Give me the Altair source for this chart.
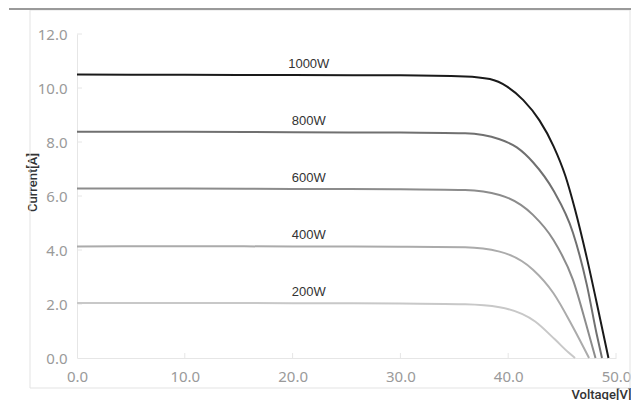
import altair as alt
import pandas as pd

series = ["1000W", "800W", "600W", "400W", "200W"]
colors = ["#1a1a1a", "#707070", "#8c8c8c", "#ababab", "#c8c8c8"]

v_1000 = [0, 10, 20, 30, 36, 38.3, 39.9, 41.4, 42.9, 44.2, 45.3, 46.2, 47.3, 48.5, 49.3]
i_1000 = [10.50, 10.49, 10.48, 10.47, 10.43, 10.33, 10.05, 9.55, 8.8, 7.85, 6.75, 5.5, 3.7, 1.5, 0.0]
v_800 = [0, 10, 20, 30, 36, 39.2, 40.8, 42.3, 44.2, 46.0, 47.3, 48.2, 48.7]
i_800 = [8.38, 8.38, 8.36, 8.35, 8.32, 8.1, 7.8, 7.25, 6.2, 4.65, 2.7, 0.9, 0.0]
v_600 = [0, 10, 20, 30, 36, 39.2, 42.3, 44.2, 46.0, 47.3, 48.1]
i_600 = [6.28, 6.28, 6.26, 6.25, 6.22, 6.04, 5.3, 4.37, 2.9, 1.15, 0.0]
v_400 = [0, 10, 20, 30, 36, 39.2, 42.3, 44.2, 46.0, 47.5]
i_400 = [4.13, 4.14, 4.13, 4.12, 4.10, 3.94, 3.27, 2.4, 1.15, 0.0]
v_200 = [0, 10, 20, 30, 36, 39.2, 42.5, 44.3, 45.6, 46.2]
i_200 = [2.04, 2.04, 2.03, 2.02, 1.99, 1.88, 1.35, 0.7, 0.2, 0.0]

label_v = [21.5, 21.5, 21.5, 21.5, 21.5]
label_i = [10.48, 8.36, 6.26, 4.13, 2.03]

x_ticks = [0, 10, 20, 30, 40, 50]
y_ticks = [0, 2, 4, 6, 8, 10, 12]

rows = []
for name, vs, cs in zip(series, [v_1000, v_800, v_600, v_400, v_200],
                        [i_1000, i_800, i_600, i_400, i_200]):
    for k, (v, c) in enumerate(zip(vs, cs)):
        rows.append({"series": name, "V": v, "I": c, "order": k})
df = pd.DataFrame(rows)
labels = pd.DataFrame({"series": series, "V": label_v, "I": label_i})

W, H = 539, 324
xs = alt.Scale(domain=[0, 50], nice=False)
ys = alt.Scale(domain=[0, 12], nice=False)
cs = alt.Scale(domain=series, range=colors)

lab_font = "Noto Sans"

lines = alt.Chart(df).mark_line(strokeWidth=2, interpolate="monotone").encode(
    x=alt.X("V:Q", scale=xs, axis=alt.Axis(
        values=x_ticks, format=".1f", grid=False, ticks=False, labelFlush=False,
        domainColor="#e6e6e6", labelColor="#9a9a9a", labelFont=lab_font,
        labelFontSize=15, labelPadding=11,
        title="Voltage[V]", titleFont="Roboto", titleFontSize=13, titleFontWeight=500,
        titleColor="#333333", titleAnchor="end", titleAlign="right",
        titleX=554, titleY=36, titleBaseline="middle")),
    y=alt.Y("I:Q", scale=ys, axis=alt.Axis(
        values=y_ticks, format=".1f", grid=False, ticks=False, labelFlush=False,
        domainColor="#e6e6e6", labelColor="#9a9a9a", labelFont=lab_font,
        labelFontSize=15, labelPadding=10,
        title="Current[A]", titleFont="Roboto", titleFontSize=13, titleFontWeight=500,
        titleColor="#333333", titleX=-45, titleY=148, titleAlign="center",
        titleBaseline="middle")),
    color=alt.Color("series:N", scale=cs, legend=None),
    order="order:Q",
)

texts = alt.Chart(labels).mark_text(
    font="Liberation Sans", fontSize=13, color="#333333",
    baseline="alphabetic", align="center", dy=-7
).encode(x=alt.X("V:Q", scale=xs), y=alt.Y("I:Q", scale=ys), text="series:N")

xt = alt.Chart(pd.DataFrame({"t": x_ticks[1:]})).mark_rule(color="#e6e6e6").encode(
    x=alt.X("t:Q", scale=xs), y=alt.value(H), y2=alt.value(H - 5))
yt = alt.Chart(pd.DataFrame({"t": y_ticks[1:]})).mark_rule(color="#e6e6e6").encode(
    y=alt.Y("t:Q", scale=ys), x=alt.value(0), x2=alt.value(5))

frame = alt.Chart(alt.Data(values=[{}])).mark_rect(
    fill="transparent", stroke="#e3e3e3", strokeWidth=1
).encode(x=alt.value(-47), x2=alt.value(553), y=alt.value(-24), y2=alt.value(354))

topline = alt.Chart(alt.Data(values=[{}])).mark_rule(
    color="#9a9a9a", strokeWidth=2
).encode(x=alt.value(-68), x2=alt.value(554), y=alt.value(-25))

chart = alt.layer(frame, topline, xt, yt, lines, texts).properties(
    width=W, height=H,
    autosize=alt.AutoSizeParams(type="none"),
    padding={"left": 69, "top": 26, "right": 15, "bottom": 42},
).configure_view(stroke=None, clip=False)

chart.save("out.html", embed_options={"renderer": "svg", "actions": False})
